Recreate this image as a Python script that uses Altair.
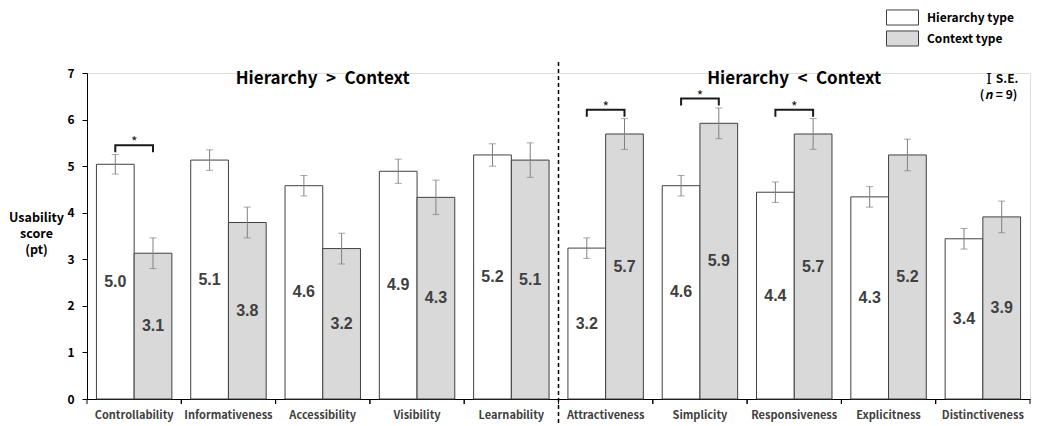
import altair as alt
import pandas as pd

categories = ["Controllability", "Informativeness", "Accessibility", "Visibility", "Learnability",
              "Attractiveness", "Simplicity", "Responsiveness", "Explicitness", "Distinctiveness"]
groups = ["Hierarchy type", "Context type"]
hierarchy_mean = [5.04, 5.13, 4.58, 4.89, 5.24, 3.24, 4.58, 4.44, 4.34, 3.44]
hierarchy_se = [0.21, 0.22, 0.22, 0.26, 0.24, 0.22, 0.22, 0.22, 0.22, 0.22]
context_mean = [3.13, 3.79, 3.23, 4.33, 5.13, 5.69, 5.92, 5.69, 5.24, 3.91]
context_se = [0.33, 0.33, 0.33, 0.37, 0.37, 0.33, 0.33, 0.33, 0.34, 0.34]

sig_categories = ["Controllability", "Attractiveness", "Simplicity", "Responsiveness"]
sig_bracket_y = [5.45, 6.21, 6.45, 6.21]
bracket_leg = 0.15

section_titles = ["Hierarchy\u2002>\u2002Context", "Hierarchy\u2002<\u2002Context"]
section_title_cats = ["Accessibility", "Responsiveness"]
section_title_y = [6.88, 6.88]
divider_cat = ["Attractiveness"]

FONT = "Noto Sans CJK KR"

rows = []
for c, m, s in zip(categories, hierarchy_mean, hierarchy_se):
    rows.append({"cat": c, "group": groups[0], "mean": m, "lo": m - s, "hi": m + s, "mid": m / 2})
for c, m, s in zip(categories, context_mean, context_se):
    rows.append({"cat": c, "group": groups[1], "mean": m, "lo": m - s, "hi": m + s, "mid": m / 2})
df = pd.DataFrame(rows)

brows = []
for c, yb in zip(sig_categories, sig_bracket_y):
    brows += [
        {"cat": c, "group": groups[0], "by": yb - bracket_leg, "idx": 0},
        {"cat": c, "group": groups[0], "by": yb, "idx": 1},
        {"cat": c, "group": groups[1], "by": yb, "idx": 2},
        {"cat": c, "group": groups[1], "by": yb - bracket_leg, "idx": 3},
    ]
bdf = pd.DataFrame(brows)
sdf = pd.DataFrame({"cat": sig_categories, "sy": [v + 0.04 for v in sig_bracket_y]})
tdf = pd.DataFrame({"cat": section_title_cats, "ty": section_title_y, "label": section_titles})
cat_df = pd.DataFrame({"cat": categories})
div_df = pd.DataFrame({"cat": divider_cat})
se_df = pd.DataFrame({"cat": [categories[-1]], "y1": [6.88], "y2": [6.52]})

H = 326
W = 943

x_axis = alt.Axis(title=None, labelAngle=0, ticks=False, domainColor="black", domainWidth=1,
                  labelFont=FONT, labelFontWeight="bold", labelFontSize=11, labelColor="#404040",
                  labelPadding=10)
y_axis = alt.Axis(values=list(range(8)), format="d", tickSize=5, tickColor="black", domainColor="black",
                  labelFont=FONT, labelFontWeight="bold", labelFontSize=12, labelColor="black",
                  labelPadding=8, grid=False,
                  title=["Usability", "score", "(pt)"], titleAngle=0, titleAlign="center",
                  titleBaseline="middle", titleX=-51, titleY=144, titleFont=FONT, titleFontSize=12.5,
                  titleFontWeight="bold", titleColor="black", titleLineHeight=16)

x_scale = alt.Scale(domain=categories, paddingInner=0, paddingOuter=0)
xo_scale = alt.Scale(domain=groups, paddingInner=0, paddingOuter=0.25)
y_scale = alt.Scale(domain=[0, 7], nice=False)


def X(**kw):
    return alt.X("cat:N", sort=categories, scale=x_scale, axis=x_axis, **kw)


def XO():
    return alt.XOffset("group:N", sort=groups, scale=xo_scale)


def Y(field):
    return alt.Y(f"{field}:Q", scale=y_scale, axis=y_axis)


bars = alt.Chart(df).mark_bar(stroke="#404040", strokeWidth=1).encode(
    x=X(), xOffset=XO(), y=Y("mean"),
    fill=alt.Fill("group:N", sort=groups,
                  scale=alt.Scale(domain=groups, range=["#ffffff", "#d9d9d9"]),
                  legend=alt.Legend(title=None, orient="none", legendX=807, legendY=-64,
                                    direction="vertical", labelFont=FONT, labelFontWeight="bold",
                                    labelFontSize=12, labelColor="black", labelOffset=16,
                                    symbolType="M-2,-0.94H2V0.94H-2Z", symbolSize=256,
                                    symbolStrokeColor="#404040", symbolStrokeWidth=1,
                                    symbolOpacity=1, rowPadding=0, padding=0)),
)

err = alt.Chart(df).mark_rule(color="#808080", strokeWidth=1).encode(
    x=X(), xOffset=XO(), y=Y("lo"), y2="hi:Q")
cap_lo = alt.Chart(df).mark_tick(color="#808080", size=7, thickness=1).encode(
    x=X(), xOffset=XO(), y=Y("lo"))
cap_hi = alt.Chart(df).mark_tick(color="#808080", size=7, thickness=1).encode(
    x=X(), xOffset=XO(), y=Y("hi"))

vals = alt.Chart(df).mark_text(font="Liberation Sans", fontWeight="bold", fontSize=16,
                               color="#404040", baseline="middle").encode(
    x=X(), xOffset=XO(), y=Y("mid"), text=alt.Text("mean:Q", format=".1f"))

brackets = alt.Chart(bdf).mark_line(color="#1a1a1a", strokeWidth=2).encode(
    x=X(), xOffset=XO(), y=Y("by"), detail="cat:N", order="idx:Q")
stars = alt.Chart(sdf).mark_text(text="*", font=FONT, fontSize=14, color="#1a1a1a",
                                 baseline="middle").encode(x=X(), y=Y("sy"))

ticks0 = alt.Chart(cat_df).mark_rule(color="black", strokeWidth=1).encode(
    x=X(bandPosition=0), y=alt.value(H), y2=alt.value(H + 5))
ticks1 = alt.Chart(cat_df).mark_rule(color="black", strokeWidth=1).encode(
    x=X(bandPosition=1), y=alt.value(H), y2=alt.value(H + 5))

divider = alt.Chart(div_df).mark_rule(color="black", strokeWidth=1.5, strokeDash=[4, 3]).encode(
    x=X(bandPosition=0), y=alt.value(-11), y2=alt.value(H + 26))

titles = alt.Chart(tdf).mark_text(font=FONT, fontWeight="bold", fontSize=17, color="black",
                                  baseline="middle").encode(x=X(), y=Y("ty"), text="label:N")

se_icon = alt.Chart(se_df).mark_text(text="I", font="DejaVu Serif", fontSize=15, color="black",
                                     baseline="middle", dx=6).encode(x=X(), y=Y("y1"))
se_txt = alt.Chart(se_df).mark_text(text="S.E.", font=FONT, fontWeight="bold", fontSize=12,
                                    color="black", baseline="middle", align="left", dx=13).encode(
    x=X(), y=Y("y1"))
n1 = alt.Chart(se_df).mark_text(text="(", font=FONT, fontWeight="bold", fontSize=12,
                                color="black", baseline="middle", align="left", dx=-3).encode(
    x=X(), y=Y("y2"))
n2 = alt.Chart(se_df).mark_text(text="n", font=FONT, fontWeight="bold", fontStyle="italic",
                                fontSize=12, color="black", baseline="middle", align="left",
                                dx=2).encode(x=X(), y=Y("y2"))
n3 = alt.Chart(se_df).mark_text(text="= 9)", font=FONT, fontWeight="bold", fontSize=12,
                                color="black", baseline="middle", align="left", dx=13).encode(
    x=X(), y=Y("y2"))

chart = alt.layer(bars, err, cap_lo, cap_hi, vals, brackets, stars, ticks0, ticks1, divider,
                  titles, se_icon, se_txt, n1, n2, n3).properties(
    width=W, height=H,
    autosize=alt.AutoSizeParams(type="none"),
    padding={"left": 79, "top": 65, "right": 1, "bottom": 27},
).configure_view(stroke=None).configure(background="white")

chart.save("out.html", embed_options={"renderer": "svg", "actions": False})
